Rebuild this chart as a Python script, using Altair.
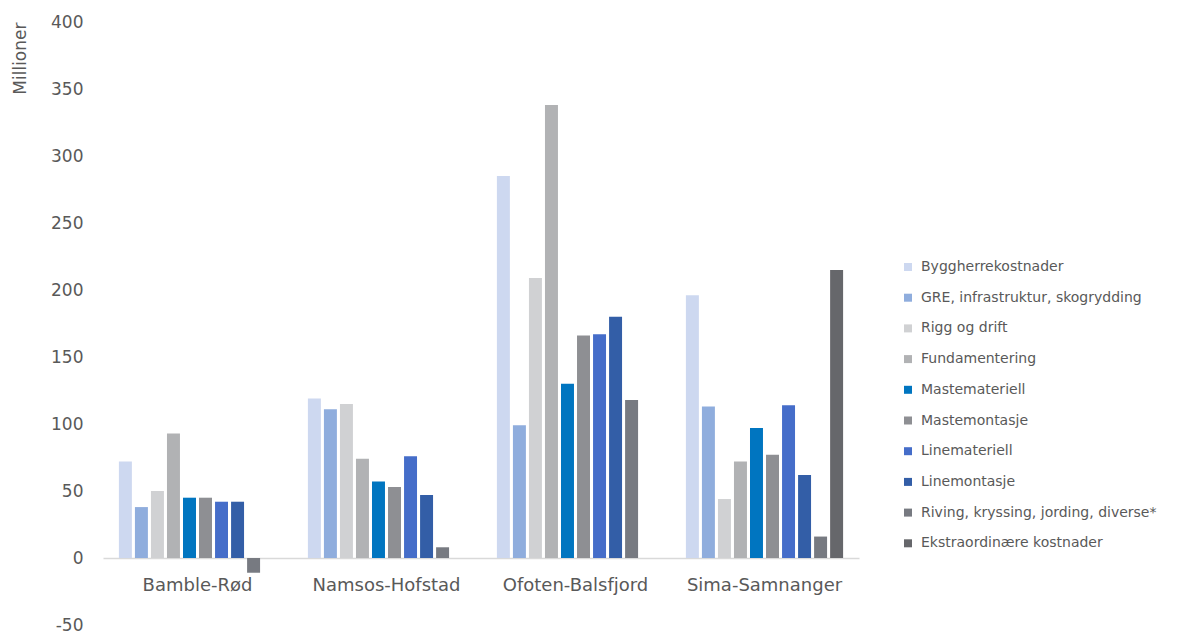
import altair as alt
import pandas as pd

# Project stretches (x-axis groups)
projects = ["Bamble-Rød", "Namsos-Hofstad", "Ofoten-Balsfjord", "Sima-Samnanger"]

# Cost categories, in legend order
categories = [
    "Byggherrekostnader",
    "GRE, infrastruktur, skogrydding",
    "Rigg og drift",
    "Fundamentering",
    "Mastemateriell",
    "Mastemontasje",
    "Linemateriell",
    "Linemontasje",
    "Riving, kryssing, jording, diverse*",
    "Ekstraordinære kostnader",
]

colors = [
    "#CDD8F0", "#8FADDD", "#D0D1D3", "#B1B2B4", "#0075C0",
    "#8E8F93", "#456DC9", "#335EA7", "#777A81", "#66676B",
]

# Costs in millions, one list per category (Bamble, Namsos, Ofoten, Sima)
byggherre = [72, 119, 285, 196]
gre = [38, 111, 99, 113]
rigg = [50, 115, 209, 44]
fundamentering = [93, 74, 338, 72]
mastemateriell = [45, 57, 130, 97]
mastemontasje = [45, 53, 166, 77]
linemateriell = [42, 76, 167, 114]
linemontasje = [42, 47, 180, 62]
riving = [-11, 8, 118, 16]
ekstraordinaere = [None, None, None, 215]

series = [byggherre, gre, rigg, fundamentering, mastemateriell,
          mastemontasje, linemateriell, linemontasje, riving, ekstraordinaere]

rows = []
for cat, vals in zip(categories, series):
    for proj, v in zip(projects, vals):
        if v is not None:
            rows.append({"Prosjekt": proj, "Kategori": cat, "Kostnad": v})
df = pd.DataFrame(rows)

text_color = "#595959"
font = "DejaVu Sans"

bars = alt.Chart(df).mark_bar().encode(
    x=alt.X(
        "Prosjekt:N",
        sort=projects,
        scale=alt.Scale(paddingInner=0.153, paddingOuter=0.0765),
        axis=alt.Axis(
            title=None,
            ticks=False,
            labelAngle=0,
            labelPadding=18,
            labelFontSize=18,
            labelColor=text_color,
            labelFont=font,
            domainColor="#D9D9D9",
            domainWidth=1.5,
            offset=-67,
        ),
    ),
    xOffset=alt.XOffset(
        "Kategori:N",
        sort=categories,
        scale=alt.Scale(paddingInner=0.19, paddingOuter=0.09),
    ),
    y=alt.Y(
        "Kostnad:Q",
        scale=alt.Scale(domain=[-50, 400], nice=False, zero=False),
        axis=alt.Axis(
            values=list(range(-50, 401, 50)),
            labelExpr="'' + datum.value",
            grid=False,
            domain=False,
            ticks=False,
            labelPadding=20,
            labelFontSize=17,
            labelColor=text_color,
            labelFont=font,
            title="Millioner",
            titleFontSize=17,
            titleFontWeight="normal",
            titleColor=text_color,
            titleFont=font,
            titleAngle=-90,
            titleAlign="right",
            titleBaseline="middle",
            titleX=-83,
            titleY=0,
        ),
    ),
    color=alt.Color(
        "Kategori:N",
        sort=categories,
        scale=alt.Scale(domain=categories, range=colors),
        legend=alt.Legend(
            title=None,
            orient="none",
            legendX=798,
            legendY=238,
            symbolType="square",
            symbolSize=64,
            symbolStrokeWidth=0,
            labelFontSize=14,
            labelColor=text_color,
            labelFont=font,
            labelLimit=0,
            rowPadding=16.7,
            labelOffset=6,
        ),
    ),
)

chart = bars.properties(
    width=756,
    height=603,
    background="white",
    autosize=alt.AutoSizeParams(type="none"),
    padding={"left": 103, "top": 22, "right": 322, "bottom": 14},
).configure_view(strokeWidth=0, stroke="transparent")

chart.save("out.html", embed_options={"renderer": "svg", "actions": False})
